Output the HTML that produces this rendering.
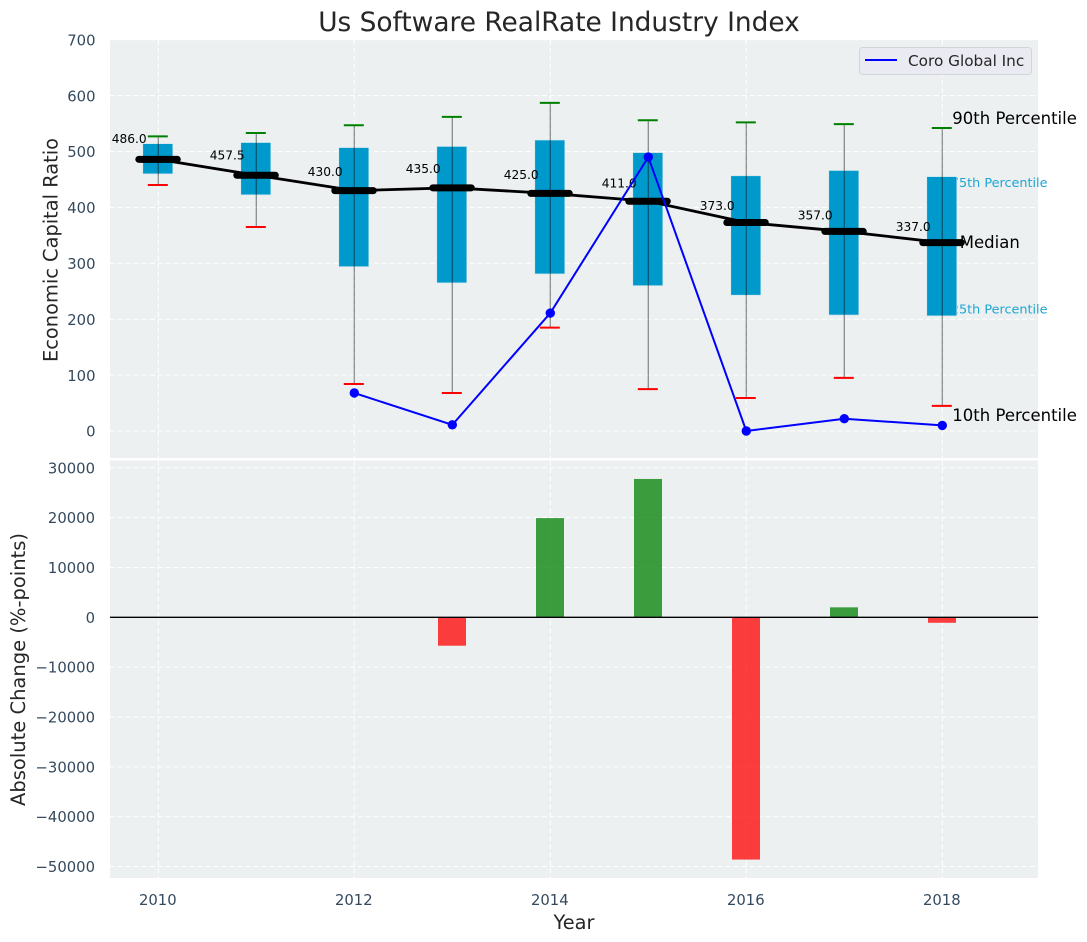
<!DOCTYPE html>
<html lang="en">
<head>
<meta charset="utf-8">
<title>Us Software RealRate Industry Index</title>
<style>
html,body{margin:0;padding:0;background:#fff;width:1087px;height:942px;overflow:hidden}
svg{display:block}
text{font-family:"DejaVu Sans","Liberation Sans",sans-serif}
</style>
</head>
<body>
<svg id="chart" width="1087" height="942" viewBox="0 0 1087 942" xmlns="http://www.w3.org/2000/svg">
  <rect x="0" y="0" width="1087" height="942" fill="#ffffff"/>
  <text x="559" y="31" text-anchor="middle" font-size="26.4px" fill="#262626">Us Software RealRate Industry Index</text>
  <rect x="110" y="40" width="928" height="418" fill="#ecf0f1"/>
  <rect x="110" y="460.5" width="928" height="417.5" fill="#ecf0f1"/>
  <g id="upperGrid"></g>
  <g id="lowerGrid"></g>
  <g id="pctLabels"></g>
  <g id="boxes"></g>
  <g id="whiskers"></g>
  <g id="medians"></g>
  <g id="coro"></g>
  <g id="bars"></g>
  <g id="ticks"></g>
  <g id="sideLabels"></g>
  <text transform="translate(57.5,250) rotate(-90)" text-anchor="middle" font-size="19.4px" fill="#262626">Economic Capital Ratio</text>
  <text transform="translate(25,669.5) rotate(-90)" text-anchor="middle" font-size="19.5px" fill="#262626">Absolute Change (%-points)</text>
  <text x="574" y="929" text-anchor="middle" font-size="19.4px" fill="#262626">Year</text>
  <g>
    <rect x="859.5" y="47.5" width="172" height="27" rx="3" fill="#eaeaf2" stroke="#d4d4d8" stroke-width="1"/>
    <line x1="865" y1="60" x2="897" y2="60" stroke="#0000ff" stroke-width="2"/>
    <text x="908" y="66" font-size="15.28px" fill="#262626">Coro Global Inc</text>
  </g>
</svg>
<script>
const years = [2010, 2011, 2012, 2013, 2014, 2015, 2016, 2017, 2018];
const p90 = [527, 533, 547, 562, 587, 556, 552, 549, 542];
const p75 = [514, 516, 507, 509, 520.5, 498, 456.5, 466, 455];
const medianValues = [486, 457.5, 430, 435, 425, 411, 373, 357, 337];
const p25 = [460, 422.5, 294, 265, 281, 260, 243, 207.5, 206];
const p10 = [440, 365, 84, 68, 185, 75, 59, 95, 45];
const coroValues = [null, null, 68, 11, 211, 490, 0, 22, 10];
const changeValues = [null, null, null, -5700, 19900, 27750, -48600, 2000, -1100];
const upperTicks = [0, 100, 200, 300, 400, 500, 600, 700];
const lowerTicks = [30000, 20000, 10000, 0, -10000, -20000, -30000, -40000, -50000];
const xTicks = [2010, 2012, 2014, 2016, 2018];

const SVGNS = 'http://www.w3.org/2000/svg';
const xScale = function (v) { return 158.3 + (v - 2010) * 98; };
const yUpper = function (v) { return 431 - v * 0.559; };
const yLower = function (v) { return 617.3 - v * 0.004985; };

function mk(tag, attrs, parentId, content) {
  const el = document.createElementNS(SVGNS, tag);
  Object.keys(attrs).forEach(function (k) { el.setAttribute(k, attrs[k]); });
  if (content !== undefined) el.textContent = content;
  document.getElementById(parentId).appendChild(el);
  return el;
}
function tickText(v) { return String(v).replace('-', '\u2212'); }

let el;

upperTicks.forEach(function (t) {
  el = mk('line', { x1: 110, x2: 1038, y1: yUpper(t), y2: yUpper(t), stroke: '#ffffff', 'stroke-width': 1, 'stroke-dasharray': '5 3' }, 'upperGrid');
  
  
  el = mk('text', { x: 95.5, y: yUpper(t) + 5.7, 'text-anchor': 'end', 'font-size': '14.8px', fill: '#34495e' }, 'ticks', tickText(t));
  
  
});

lowerTicks.forEach(function (t) {
  el = mk('line', { x1: 110, x2: 1038, y1: yLower(t), y2: yLower(t), stroke: '#ffffff', 'stroke-width': 1, 'stroke-dasharray': '5 3' }, 'lowerGrid');
  
  
  el = mk('text', { x: 95, y: yLower(t) + 5.5, 'text-anchor': 'end', 'font-size': '14.8px', fill: '#34495e' }, 'ticks', tickText(t));
  
  
});

xTicks.forEach(function (t) {
  el = mk('line', { x1: xScale(t), x2: xScale(t), y1: 40, y2: 458, stroke: '#ffffff', 'stroke-width': 1, 'stroke-dasharray': '5 3' }, 'upperGrid');
  
  
  el = mk('line', { x1: xScale(t), x2: xScale(t), y1: 460.5, y2: 878, stroke: '#ffffff', 'stroke-width': 1, 'stroke-dasharray': '5 3' }, 'lowerGrid');
  
  
  el = mk('text', { x: xScale(t) - 0.5, y: 905, 'text-anchor': 'middle', 'font-size': '14.8px', fill: '#34495e' }, 'ticks', String(t));
  
  
});

const lastIndex = years.length - 1;
el = mk('text', { x: 1047.5, y: yUpper(p75[lastIndex]) + 10.5, 'text-anchor': 'end', 'font-size': '12.8px', fill: '#1ea5d3' }, 'pctLabels', '75th Percentile');


el = mk('text', { x: 1047.5, y: yUpper(p25[lastIndex]) - 2.5, 'text-anchor': 'end', 'font-size': '12.8px', fill: '#1ea5d3' }, 'pctLabels', '25th Percentile');



years.forEach(function (yr, i) {
  const cx = xScale(yr);
  const hw = 15;
  el = mk('rect', { x: cx - hw - 0.5, y: yUpper(p75[i]), width: hw * 2, height: yUpper(p25[i]) - yUpper(p75[i]), fill: '#0099cc', stroke: '#cfe6ee', 'stroke-width': 0.6 }, 'boxes');
  
  

  el = mk('line', { x1: cx, x2: cx, y1: yUpper(p90[i]), y2: yUpper(p10[i]), stroke: '#000000', 'stroke-opacity': 0.42, 'stroke-width': 1.3 }, 'whiskers');
  
  

  el = mk('line', { x1: cx - 10.5, x2: cx + 9.5, y1: yUpper(p90[i]), y2: yUpper(p90[i]), stroke: '#008000', 'stroke-width': 2 }, 'whiskers');
  
  

  el = mk('line', { x1: cx - 10.5, x2: cx + 9.5, y1: yUpper(p10[i]), y2: yUpper(p10[i]), stroke: '#ff0000', 'stroke-width': 2 }, 'whiskers');
  
  
});

el = mk('polyline', { points: years.map(function (yr, i) { return xScale(yr) + ',' + yUpper(medianValues[i]); }).join(' '), fill: 'none', stroke: '#000000', 'stroke-width': 2.8 }, 'medians');



years.forEach(function (yr, i) {
  const cx = xScale(yr);
  const my = yUpper(medianValues[i]);
  el = mk('line', { x1: cx - 19.5, x2: cx + 19, y1: my, y2: my, stroke: '#000000', 'stroke-width': 7, 'stroke-linecap': 'round' }, 'medians');
  
  
  el = mk('text', { x: cx - 46.5, y: my - (0.0335 * medianValues[i] + 4.7) + 4.5, 'font-size': '12.2px', fill: '#000000' }, 'medians', medianValues[i].toFixed(1));
  
  
});

const coroPts = [];
years.forEach(function (yr, i) {
  if (coroValues[i] !== null) coroPts.push(xScale(yr) + ',' + yUpper(coroValues[i]));
});
el = mk('polyline', { points: coroPts.join(' '), fill: 'none', stroke: '#0000ff', 'stroke-width': 2 }, 'coro');


years.forEach(function (yr, i) {
  if (coroValues[i] === null) return;
  el = mk('circle', { cx: xScale(yr), cy: yUpper(coroValues[i]), r: 4.7, fill: '#0000ff' }, 'coro');
  
  
});

years.forEach(function (yr, i) {
  const v = changeValues[i];
  if (v === null) return;
  const top = Math.min(yLower(v), yLower(0));
  const h = Math.abs(yLower(v) - yLower(0));
  el = mk('rect', { x: xScale(yr) - 14.3, y: top, width: 28, height: h, fill: v >= 0 ? '#008000' : '#ff0000', 'fill-opacity': 0.75 }, 'bars');
  
  
});
el = mk('line', { x1: 110, x2: 1038, y1: yLower(0), y2: yLower(0), stroke: '#000000', 'stroke-width': 1.3 }, 'bars');



const edgeX = xScale(years[lastIndex]);
el = mk('text', { x: edgeX + 10, y: yUpper(p90[lastIndex]) - 4, 'font-size': '16.5px', fill: '#000000' }, 'sideLabels', '90th Percentile');


el = mk('text', { x: edgeX + 17.5, y: yUpper(medianValues[lastIndex]) + 5.5, 'font-size': '16.5px', fill: '#000000' }, 'sideLabels', 'Median');


el = mk('text', { x: edgeX + 10, y: yUpper(p10[lastIndex]) + 15, 'font-size': '16.5px', fill: '#000000' }, 'sideLabels', '10th Percentile');


</script>
</body>
</html>
